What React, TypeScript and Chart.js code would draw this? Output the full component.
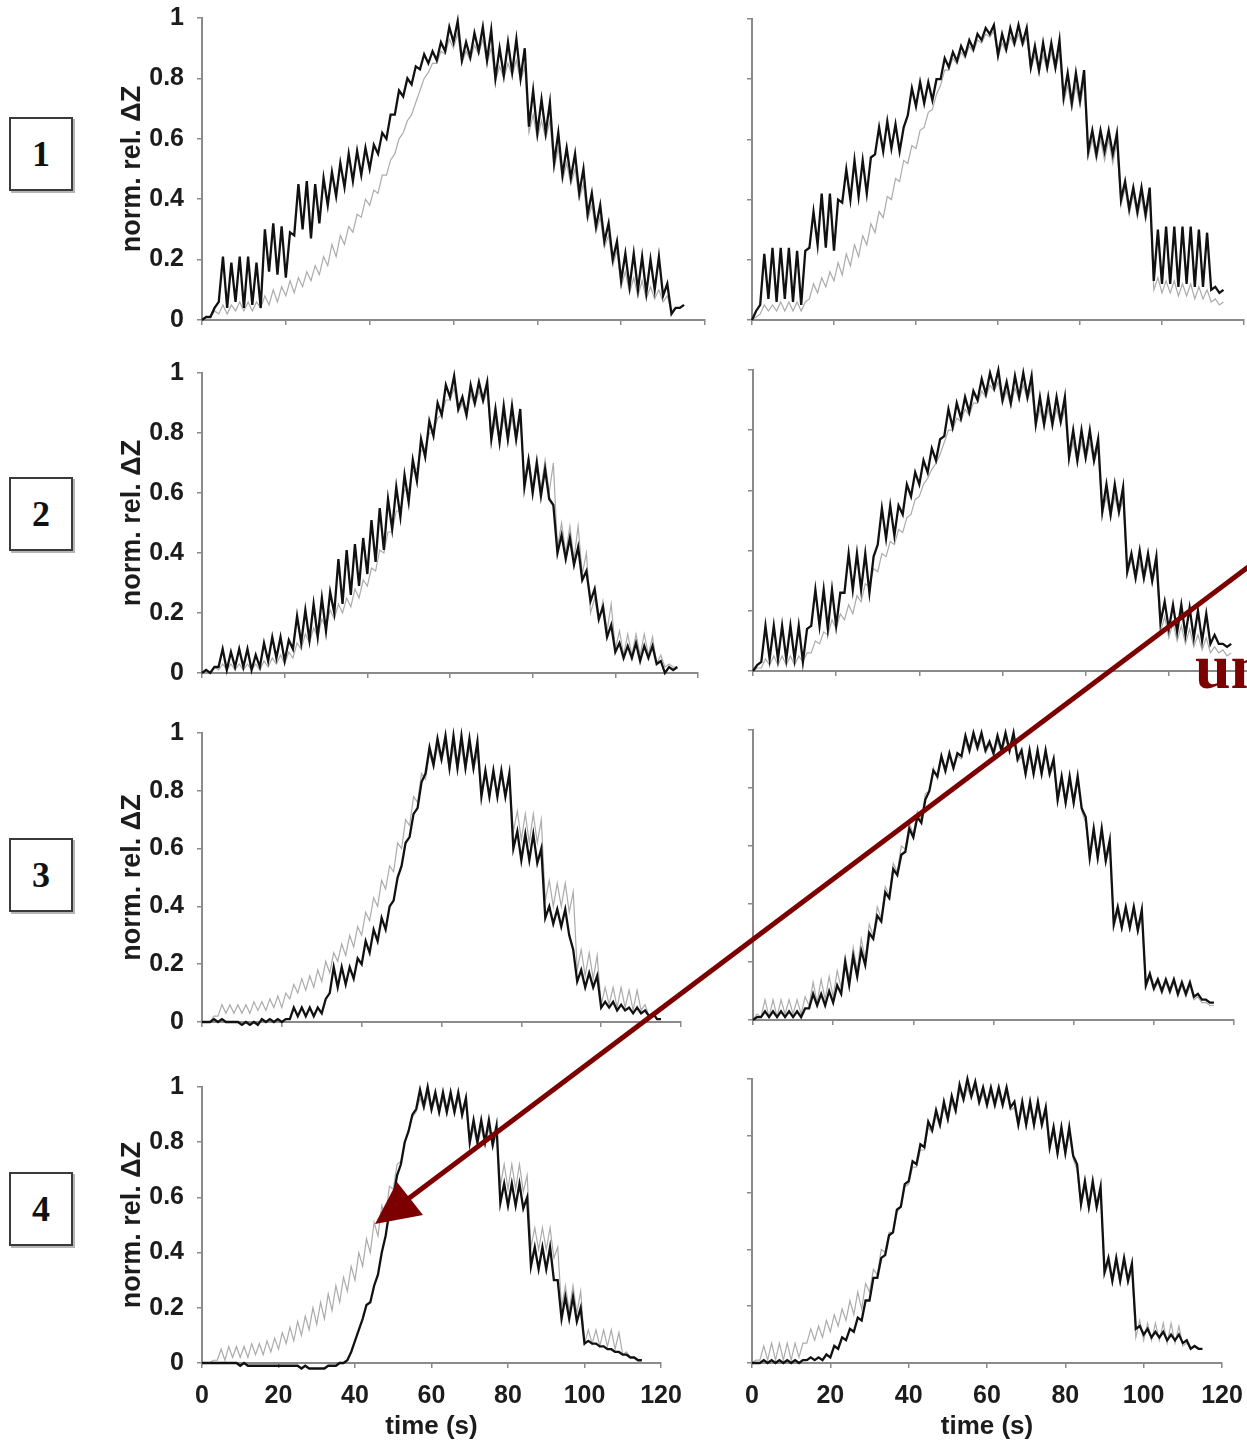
import React, { useEffect, useRef } from "react";
import { Chart, registerables } from "chart.js";
Chart.register(...registerables);

// ---------- text ----------
const rowLabels = ["1", "2", "3", "4"];
const yTitle = "norm. rel. ΔZ";
const xTitle = "time (s)";
const sideWord = "un";

// ---------- data (lo = trough at t=0,2,4..., hi = spike at t=1,3,5...) ----------
const r1L_blackLo = [0.00,0.01,0.06,0.04,0.06,0.04,0.05,0.04,0.16,0.15,0.14,0.28,0.30,0.27,0.32,0.38,0.41,0.44,0.46,0.48,0.50,0.55,0.60,0.68,0.74,0.78,0.83,0.85,0.86,0.89,0.92,0.86,0.87,0.89,0.86,0.80,0.81,0.82,0.80,0.64,0.62,0.62,0.52,0.48,0.47,0.42,0.35,0.31,0.26,0.20,0.13,0.11,0.10,0.09,0.10,0.08,0.02,0.04];
const r1L_blackHi = [0.01,0.04,0.21,0.19,0.21,0.21,0.19,0.30,0.32,0.31,0.29,0.45,0.46,0.45,0.47,0.49,0.52,0.55,0.56,0.57,0.58,0.62,0.68,0.76,0.80,0.84,0.88,0.89,0.92,0.97,0.99,0.92,0.95,0.97,0.96,0.90,0.92,0.93,0.90,0.76,0.73,0.72,0.62,0.57,0.55,0.50,0.42,0.38,0.32,0.26,0.22,0.22,0.21,0.20,0.21,0.12,0.04,0.05];
const r1L_greyLo = [0.00,0.01,0.02,0.02,0.03,0.03,0.03,0.04,0.05,0.06,0.08,0.09,0.11,0.13,0.15,0.18,0.21,0.25,0.29,0.34,0.38,0.42,0.48,0.55,0.62,0.68,0.76,0.82,0.85,0.88,0.90,0.85,0.86,0.88,0.85,0.79,0.80,0.81,0.79,0.62,0.60,0.60,0.50,0.46,0.45,0.40,0.33,0.29,0.24,0.18,0.11,0.09,0.08,0.07,0.07,0.06,0.03,0.04];
const r1L_greyHi = [0.01,0.03,0.05,0.05,0.06,0.06,0.06,0.08,0.10,0.11,0.13,0.14,0.16,0.18,0.21,0.25,0.28,0.31,0.35,0.40,0.43,0.48,0.53,0.60,0.66,0.72,0.80,0.85,0.89,0.93,0.95,0.89,0.91,0.93,0.90,0.84,0.85,0.86,0.84,0.68,0.66,0.66,0.57,0.52,0.50,0.45,0.38,0.34,0.28,0.23,0.16,0.14,0.13,0.11,0.10,0.08,0.04,0.05];

const r1R_blackLo = [0.00,0.05,0.07,0.06,0.07,0.06,0.05,0.24,0.25,0.24,0.23,0.39,0.40,0.41,0.42,0.55,0.56,0.57,0.56,0.68,0.71,0.72,0.73,0.80,0.84,0.86,0.88,0.90,0.93,0.95,0.88,0.90,0.92,0.92,0.84,0.83,0.84,0.84,0.74,0.72,0.73,0.56,0.55,0.56,0.55,0.40,0.37,0.36,0.35,0.13,0.12,0.12,0.11,0.12,0.11,0.11,0.10,0.09];
const r1R_blackHi = [0.03,0.22,0.24,0.24,0.24,0.23,0.23,0.36,0.42,0.42,0.40,0.50,0.53,0.53,0.54,0.64,0.66,0.65,0.64,0.77,0.79,0.79,0.80,0.87,0.89,0.91,0.93,0.95,0.97,0.98,0.95,0.97,0.98,0.97,0.91,0.92,0.92,0.93,0.82,0.82,0.83,0.63,0.63,0.63,0.62,0.46,0.44,0.44,0.44,0.30,0.31,0.31,0.31,0.31,0.30,0.29,0.11,0.10];
const r1R_greyLo = [0.00,0.02,0.03,0.03,0.03,0.03,0.03,0.07,0.09,0.11,0.13,0.15,0.18,0.21,0.25,0.29,0.34,0.40,0.46,0.52,0.57,0.64,0.70,0.78,0.83,0.85,0.87,0.89,0.92,0.94,0.87,0.89,0.91,0.91,0.83,0.82,0.83,0.83,0.72,0.70,0.71,0.54,0.53,0.53,0.52,0.38,0.35,0.34,0.33,0.10,0.09,0.09,0.08,0.08,0.07,0.07,0.06,0.05];
const r1R_greyHi = [0.01,0.05,0.05,0.06,0.06,0.06,0.06,0.12,0.14,0.16,0.19,0.22,0.25,0.28,0.32,0.36,0.41,0.47,0.53,0.58,0.63,0.69,0.75,0.83,0.87,0.89,0.91,0.93,0.95,0.96,0.92,0.94,0.95,0.94,0.88,0.88,0.89,0.89,0.78,0.78,0.79,0.60,0.60,0.60,0.59,0.44,0.42,0.41,0.41,0.14,0.13,0.13,0.12,0.12,0.11,0.10,0.07,0.06];

const r2L_blackLo = [0.00,0.00,0.02,0.01,0.02,0.02,0.01,0.02,0.04,0.05,0.04,0.08,0.10,0.11,0.12,0.14,0.20,0.23,0.26,0.29,0.33,0.37,0.41,0.48,0.52,0.57,0.64,0.72,0.79,0.86,0.92,0.88,0.86,0.90,0.91,0.78,0.77,0.78,0.78,0.62,0.60,0.59,0.58,0.40,0.38,0.36,0.31,0.24,0.18,0.12,0.07,0.05,0.05,0.04,0.05,0.03,0.00,0.01];
const r2L_blackHi = [0.01,0.02,0.08,0.07,0.08,0.08,0.06,0.10,0.12,0.12,0.11,0.19,0.21,0.23,0.25,0.27,0.38,0.41,0.43,0.45,0.51,0.55,0.58,0.62,0.66,0.71,0.78,0.84,0.90,0.96,0.99,0.92,0.96,0.97,0.97,0.88,0.89,0.89,0.88,0.71,0.70,0.68,0.56,0.46,0.45,0.42,0.34,0.28,0.22,0.16,0.10,0.09,0.10,0.09,0.09,0.04,0.02,0.02];
const r2L_greyLo = [0.00,0.00,0.01,0.01,0.01,0.01,0.01,0.01,0.02,0.03,0.03,0.05,0.08,0.10,0.12,0.15,0.18,0.20,0.22,0.25,0.29,0.34,0.40,0.47,0.54,0.61,0.68,0.75,0.80,0.86,0.91,0.87,0.85,0.89,0.90,0.77,0.77,0.77,0.77,0.64,0.62,0.61,0.60,0.42,0.40,0.38,0.33,0.20,0.17,0.14,0.08,0.06,0.06,0.06,0.06,0.03,0.02,0.02];
const r2L_greyHi = [0.00,0.02,0.03,0.03,0.03,0.03,0.03,0.04,0.05,0.06,0.07,0.10,0.13,0.15,0.18,0.21,0.23,0.25,0.28,0.31,0.35,0.41,0.47,0.54,0.61,0.67,0.74,0.80,0.85,0.91,0.95,0.90,0.93,0.94,0.94,0.84,0.85,0.85,0.85,0.72,0.72,0.71,0.70,0.50,0.49,0.49,0.40,0.25,0.24,0.23,0.14,0.13,0.13,0.13,0.12,0.06,0.03,0.02];

const r2R_blackLo = [0.00,0.03,0.04,0.04,0.04,0.04,0.03,0.15,0.15,0.14,0.15,0.26,0.27,0.27,0.26,0.42,0.44,0.45,0.52,0.58,0.62,0.66,0.70,0.78,0.81,0.84,0.86,0.90,0.92,0.94,0.90,0.89,0.91,0.91,0.82,0.82,0.82,0.83,0.71,0.70,0.71,0.70,0.53,0.52,0.53,0.33,0.31,0.31,0.30,0.16,0.14,0.13,0.12,0.11,0.10,0.09,0.09,0.08];
const r2R_blackHi = [0.02,0.15,0.15,0.15,0.15,0.15,0.14,0.27,0.27,0.27,0.26,0.39,0.39,0.39,0.38,0.54,0.55,0.55,0.62,0.66,0.70,0.74,0.77,0.87,0.89,0.91,0.93,0.97,0.99,1.00,0.96,0.98,0.99,0.98,0.91,0.91,0.91,0.91,0.80,0.80,0.80,0.77,0.62,0.62,0.61,0.39,0.40,0.39,0.38,0.23,0.22,0.22,0.21,0.20,0.19,0.12,0.09,0.09];
const r2R_greyLo = [0.00,0.01,0.02,0.02,0.02,0.02,0.03,0.06,0.09,0.12,0.14,0.17,0.19,0.23,0.28,0.33,0.38,0.42,0.46,0.52,0.58,0.64,0.69,0.76,0.80,0.83,0.85,0.89,0.91,0.93,0.89,0.88,0.90,0.90,0.81,0.81,0.81,0.82,0.70,0.69,0.70,0.69,0.52,0.51,0.52,0.32,0.30,0.30,0.29,0.13,0.11,0.10,0.09,0.08,0.07,0.06,0.06,0.05];
const r2R_greyHi = [0.01,0.04,0.05,0.05,0.05,0.05,0.06,0.10,0.13,0.17,0.19,0.22,0.25,0.29,0.34,0.39,0.43,0.47,0.51,0.57,0.62,0.67,0.72,0.80,0.84,0.87,0.89,0.93,0.95,0.96,0.93,0.94,0.95,0.94,0.87,0.87,0.87,0.87,0.76,0.76,0.76,0.74,0.58,0.58,0.57,0.37,0.36,0.36,0.35,0.18,0.16,0.15,0.14,0.12,0.11,0.08,0.07,0.06];

const r3L_blackLo = [0.00,0.00,0.00,0.00,0.00,-0.01,-0.01,-0.01,0.00,0.00,0.00,0.01,0.02,0.02,0.02,0.03,0.10,0.12,0.13,0.15,0.20,0.24,0.28,0.32,0.42,0.54,0.64,0.74,0.86,0.89,0.91,0.88,0.88,0.88,0.88,0.78,0.78,0.78,0.78,0.60,0.56,0.56,0.55,0.36,0.34,0.33,0.30,0.14,0.12,0.12,0.05,0.05,0.04,0.04,0.03,0.03,0.02,0.01];
const r3L_blackHi = [0.00,0.01,0.01,0.00,0.00,0.00,0.00,0.01,0.01,0.01,0.01,0.05,0.05,0.05,0.05,0.08,0.19,0.19,0.19,0.22,0.28,0.32,0.36,0.40,0.50,0.62,0.72,0.83,0.95,0.98,0.99,0.99,0.99,0.98,0.97,0.87,0.87,0.87,0.86,0.66,0.65,0.65,0.60,0.40,0.39,0.39,0.25,0.18,0.17,0.16,0.07,0.07,0.06,0.05,0.05,0.04,0.03,0.01];
const r3L_greyLo = [0.00,0.00,0.02,0.03,0.03,0.03,0.03,0.04,0.04,0.05,0.05,0.08,0.10,0.11,0.12,0.14,0.17,0.21,0.23,0.26,0.30,0.35,0.40,0.46,0.52,0.60,0.68,0.76,0.84,0.88,0.90,0.87,0.87,0.87,0.87,0.79,0.78,0.78,0.78,0.66,0.63,0.62,0.62,0.42,0.40,0.40,0.38,0.18,0.16,0.15,0.06,0.06,0.05,0.05,0.04,0.04,0.02,0.01];
const r3L_greyHi = [0.00,0.02,0.06,0.06,0.06,0.06,0.07,0.07,0.08,0.09,0.10,0.13,0.15,0.16,0.18,0.21,0.24,0.27,0.30,0.33,0.38,0.43,0.49,0.54,0.62,0.70,0.78,0.86,0.93,0.95,0.96,0.95,0.95,0.95,0.93,0.85,0.85,0.85,0.84,0.73,0.72,0.72,0.70,0.49,0.48,0.48,0.45,0.25,0.24,0.23,0.12,0.12,0.12,0.11,0.11,0.06,0.03,0.01];

const r3R_blackLo = [0.00,0.01,0.01,0.01,0.01,0.01,0.01,0.04,0.05,0.05,0.06,0.09,0.12,0.15,0.19,0.28,0.34,0.42,0.50,0.58,0.63,0.68,0.79,0.84,0.86,0.87,0.91,0.93,0.94,0.93,0.92,0.93,0.93,0.90,0.85,0.85,0.85,0.85,0.76,0.75,0.75,0.73,0.56,0.56,0.55,0.33,0.32,0.32,0.31,0.12,0.11,0.10,0.10,0.09,0.09,0.08,0.07,0.06];
const r3R_blackHi = [0.01,0.03,0.03,0.03,0.03,0.03,0.04,0.09,0.09,0.10,0.12,0.20,0.22,0.24,0.30,0.36,0.44,0.52,0.57,0.66,0.70,0.76,0.86,0.91,0.92,0.92,0.98,0.99,0.99,0.96,0.98,0.99,0.99,0.93,0.93,0.93,0.93,0.90,0.84,0.84,0.84,0.70,0.66,0.66,0.62,0.39,0.39,0.39,0.38,0.16,0.14,0.14,0.14,0.13,0.13,0.09,0.07,0.06];
const r3R_greyLo = [0.00,0.01,0.01,0.01,0.02,0.02,0.02,0.05,0.06,0.07,0.08,0.11,0.14,0.17,0.21,0.29,0.35,0.43,0.51,0.59,0.64,0.69,0.79,0.83,0.85,0.86,0.90,0.92,0.93,0.92,0.91,0.92,0.92,0.89,0.84,0.84,0.84,0.84,0.75,0.74,0.74,0.72,0.55,0.55,0.54,0.32,0.31,0.31,0.30,0.11,0.10,0.09,0.09,0.08,0.08,0.07,0.06,0.05];
const r3R_greyHi = [0.02,0.07,0.07,0.07,0.07,0.07,0.08,0.13,0.14,0.15,0.17,0.22,0.25,0.28,0.33,0.39,0.46,0.54,0.60,0.68,0.72,0.78,0.87,0.90,0.91,0.91,0.96,0.97,0.97,0.95,0.96,0.97,0.97,0.91,0.91,0.91,0.91,0.88,0.82,0.82,0.82,0.68,0.64,0.64,0.60,0.37,0.37,0.37,0.36,0.15,0.13,0.13,0.13,0.12,0.12,0.08,0.06,0.05];

const r4L_blackLo = [0.00,0.00,0.00,0.00,0.00,-0.01,-0.01,-0.01,-0.01,-0.01,-0.01,-0.01,-0.01,-0.02,-0.02,-0.02,-0.02,-0.01,0.00,0.01,0.08,0.16,0.22,0.32,0.46,0.60,0.72,0.84,0.92,0.93,0.92,0.91,0.91,0.91,0.90,0.80,0.80,0.80,0.79,0.58,0.57,0.57,0.56,0.35,0.34,0.34,0.30,0.16,0.16,0.15,0.07,0.07,0.06,0.05,0.04,0.03,0.02,0.01];
const r4L_blackHi = [0.00,0.00,0.00,0.00,0.00,0.00,-0.01,-0.01,-0.01,-0.01,-0.01,-0.01,-0.01,-0.01,-0.02,-0.02,-0.01,-0.01,0.00,0.04,0.12,0.21,0.28,0.40,0.55,0.68,0.80,0.90,0.99,1.00,0.98,0.98,0.98,0.98,0.96,0.88,0.88,0.88,0.86,0.65,0.65,0.65,0.60,0.42,0.42,0.42,0.30,0.24,0.24,0.20,0.08,0.07,0.06,0.05,0.04,0.03,0.02,0.01];
const r4L_greyLo = [0.00,0.00,0.01,0.01,0.02,0.02,0.02,0.03,0.03,0.04,0.05,0.07,0.08,0.10,0.12,0.14,0.16,0.19,0.22,0.26,0.30,0.35,0.40,0.46,0.53,0.63,0.73,0.84,0.91,0.92,0.91,0.90,0.90,0.90,0.89,0.79,0.79,0.79,0.78,0.64,0.63,0.63,0.62,0.42,0.41,0.41,0.38,0.20,0.19,0.18,0.07,0.07,0.06,0.06,0.05,0.03,0.02,0.01];
const r4L_greyHi = [0.00,0.01,0.05,0.06,0.06,0.06,0.07,0.07,0.08,0.09,0.11,0.13,0.15,0.17,0.20,0.22,0.25,0.28,0.31,0.35,0.40,0.45,0.51,0.57,0.64,0.72,0.80,0.89,0.96,0.97,0.96,0.96,0.96,0.96,0.94,0.85,0.85,0.85,0.83,0.72,0.72,0.72,0.68,0.49,0.49,0.49,0.42,0.28,0.28,0.26,0.12,0.12,0.12,0.12,0.11,0.04,0.02,0.01];

const r4R_blackLo = [0.00,0.00,0.00,0.00,0.00,0.00,0.00,0.01,0.01,0.01,0.02,0.05,0.08,0.11,0.15,0.22,0.30,0.38,0.46,0.55,0.64,0.70,0.76,0.82,0.84,0.86,0.89,0.93,0.94,0.92,0.91,0.91,0.91,0.90,0.84,0.84,0.84,0.84,0.76,0.74,0.74,0.73,0.56,0.55,0.55,0.32,0.29,0.29,0.29,0.12,0.10,0.09,0.09,0.08,0.08,0.07,0.05,0.05];
const r4R_blackHi = [0.00,0.01,0.01,0.01,0.01,0.01,0.01,0.02,0.02,0.03,0.06,0.09,0.12,0.16,0.22,0.30,0.37,0.45,0.54,0.63,0.71,0.77,0.85,0.89,0.92,0.94,0.98,1.00,0.99,0.97,0.97,0.97,0.97,0.92,0.92,0.92,0.92,0.90,0.83,0.83,0.83,0.70,0.64,0.64,0.62,0.37,0.37,0.37,0.35,0.13,0.12,0.11,0.11,0.10,0.10,0.08,0.06,0.05];
const r4R_greyLo = [0.00,0.01,0.01,0.01,0.01,0.01,0.02,0.07,0.08,0.09,0.11,0.13,0.15,0.17,0.19,0.25,0.31,0.39,0.46,0.55,0.63,0.69,0.75,0.81,0.83,0.85,0.88,0.92,0.93,0.91,0.90,0.90,0.90,0.89,0.83,0.83,0.83,0.83,0.75,0.73,0.73,0.72,0.55,0.54,0.54,0.31,0.28,0.28,0.28,0.09,0.08,0.08,0.08,0.07,0.07,0.06,0.05,0.05];
const r4R_greyHi = [0.01,0.06,0.07,0.07,0.07,0.07,0.07,0.12,0.13,0.15,0.17,0.19,0.22,0.25,0.28,0.33,0.40,0.46,0.53,0.62,0.69,0.75,0.83,0.87,0.90,0.92,0.96,0.97,0.97,0.95,0.95,0.95,0.95,0.90,0.90,0.90,0.90,0.88,0.81,0.81,0.81,0.68,0.62,0.62,0.60,0.35,0.35,0.35,0.33,0.15,0.14,0.14,0.14,0.14,0.13,0.07,0.06,0.05];

// ---------- helpers ----------
function interleave(lo: number[], hi: number[]) {
  const pts: { x: number; y: number }[] = [];
  for (let i = 0; i < lo.length; i++) {
    pts.push({ x: 2 * i, y: lo[i] });
    if (i < hi.length) pts.push({ x: 2 * i + 1, y: hi[i] });
  }
  return pts;
}

const TICK_FONT = '"Liberation Sans", Arial, sans-serif';
const AXIS_COLOR = "#8a8a8a";
const TEXT_COLOR = "#1c1c1c";

type PanelProps = {
  bLo: number[]; bHi: number[]; gLo: number[]; gHi: number[];
  left: number; right: number; top: number; bottom: number;
  showY: boolean; showX: boolean;
};

const PAD_TOP = 18;

function Panel(p: PanelProps) {
  const ref = useRef<HTMLCanvasElement>(null);
  const yW = p.showY ? p.left - 116 : 20;
  const xH = p.showX ? 1442 - p.bottom : 10;
  const padRight = p.showX ? 28 : 6;
  const cLeft = p.left - yW;
  const cTop = p.top - PAD_TOP;
  const cW = yW + (p.right - p.left) + padRight;
  const cH = PAD_TOP + (p.bottom - p.top) + xH;

  useEffect(() => {
    if (!ref.current) return;
    const chart = new Chart(ref.current, {
      type: "line",
      data: {
        datasets: [
          { data: interleave(p.bLo, p.bHi), borderColor: "#111111", borderWidth: 2.3, pointRadius: 0, tension: 0, clip: false as any, order: 0 },
          { data: interleave(p.gLo, p.gHi), borderColor: "#ababab", borderWidth: 1.2, pointRadius: 0, tension: 0, clip: false as any, order: 1 },
        ],
      },
      options: {
        animation: false,
        responsive: false,
        devicePixelRatio: 1,
        events: [],
        layout: { padding: { top: PAD_TOP, right: padRight, bottom: 0, left: 0 } },
        plugins: { legend: { display: false }, tooltip: { enabled: false } },
        scales: {
          x: {
            type: "linear", min: 0, max: 120,
            ticks: { stepSize: 20, display: p.showX, autoSkip: false, maxRotation: 0, padding: 13, color: TEXT_COLOR, font: { family: TICK_FONT, size: 25, weight: "bold" } },
            grid: { drawOnChartArea: false, drawTicks: true, tickLength: 5, color: AXIS_COLOR, lineWidth: 1.5 },
            border: { display: true, color: AXIS_COLOR, width: 2 },
            title: { display: p.showX, text: xTitle, color: TEXT_COLOR, padding: 0, font: { family: TICK_FONT, size: 26, weight: "bold" } },
            afterFit: (s: any) => { s.height = xH; s.paddingLeft = 0; s.paddingRight = 0; },
          },
          y: {
            type: "linear", min: 0, max: 1,
            ticks: { stepSize: 0.2, display: p.showY, padding: 13, color: TEXT_COLOR, font: { family: TICK_FONT, size: 25, weight: "bold" }, callback: (v: any) => String(Math.round(Number(v) * 10) / 10) },
            grid: { drawOnChartArea: false, drawTicks: true, tickLength: 5, color: AXIS_COLOR, lineWidth: 1.5 },
            border: { display: true, color: AXIS_COLOR, width: 2 },
            title: { display: p.showY, text: yTitle, color: TEXT_COLOR, padding: 0, font: { family: TICK_FONT, size: 27, weight: "bold" } },
            afterFit: (s: any) => { s.width = yW; s.paddingTop = 0; s.paddingBottom = 0; },
          },
        },
      } as any,
    });
    return () => chart.destroy();
  }, []);

  return (
    <canvas
      ref={ref}
      width={cW}
      height={cH}
      style={{ position: "absolute", left: cLeft, top: cTop, width: cW, height: cH }}
    />
  );
}

const panels: PanelProps[] = [
  { bLo: r1L_blackLo, bHi: r1L_blackHi, gLo: r1L_greyLo, gHi: r1L_greyHi, left: 202, right: 705, top: 18, bottom: 320, showY: true, showX: false },
  { bLo: r1R_blackLo, bHi: r1R_blackHi, gLo: r1R_greyLo, gHi: r1R_greyHi, left: 752, right: 1244, top: 19, bottom: 320, showY: false, showX: false },
  { bLo: r2L_blackLo, bHi: r2L_blackHi, gLo: r2L_greyLo, gHi: r2L_greyHi, left: 202, right: 698, top: 373, bottom: 673, showY: true, showX: false },
  { bLo: r2R_blackLo, bHi: r2R_blackHi, gLo: r2R_greyLo, gHi: r2R_greyHi, left: 753, right: 1252, top: 370, bottom: 671, showY: false, showX: false },
  { bLo: r3L_blackLo, bHi: r3L_blackHi, gLo: r3L_greyLo, gHi: r3L_greyHi, left: 202, right: 681, top: 733, bottom: 1022, showY: true, showX: false },
  { bLo: r3R_blackLo, bHi: r3R_blackHi, gLo: r3R_greyLo, gHi: r3R_greyHi, left: 753, right: 1234, top: 730, bottom: 1020, showY: false, showX: false },
  { bLo: r4L_blackLo, bHi: r4L_blackHi, gLo: r4L_greyLo, gHi: r4L_greyHi, left: 202, right: 661, top: 1087, bottom: 1363, showY: true, showX: true },
  { bLo: r4R_blackLo, bHi: r4R_blackHi, gLo: r4R_greyLo, gHi: r4R_greyHi, left: 752, right: 1222, top: 1079, bottom: 1363, showY: false, showX: true },
];

const boxTops = [117, 477, 838, 1172];

export default function App() {
  return (
    <div style={{ position: "absolute", left: 0, top: 0, width: 1247, height: 1442, overflow: "hidden", background: "#ffffff" }}>
      {panels.map((p, i) => <Panel key={i} {...p} />)}
      {rowLabels.map((lab, i) => (
        <div
          key={lab}
          style={{
            position: "absolute", left: 9, top: boxTops[i], width: 60, height: 70,
            border: "2px solid #3a3a3a", boxShadow: "2px 2px 0 #b5b5b5",
            display: "flex", alignItems: "center", justifyContent: "center",
            fontFamily: '"Liberation Serif", "Times New Roman", serif', fontWeight: "bold", fontSize: 36, color: "#111",
          }}
        >
          {lab}
        </div>
      ))}
      <svg width={1247} height={1442} style={{ position: "absolute", left: 0, top: 0, pointerEvents: "none" }}>
        <line x1={1252} y1={564} x2={408} y2={1199} stroke="#7d0000" strokeWidth={5} />
        <polygon points="375,1224 397,1182 423,1215" fill="#7d0000" />
        <text x={1195} y={688} fill="#7d0000" fontFamily='"Liberation Serif", "Times New Roman", serif' fontWeight="bold" fontSize={64}>{sideWord}</text>
      </svg>
    </div>
  );
}
